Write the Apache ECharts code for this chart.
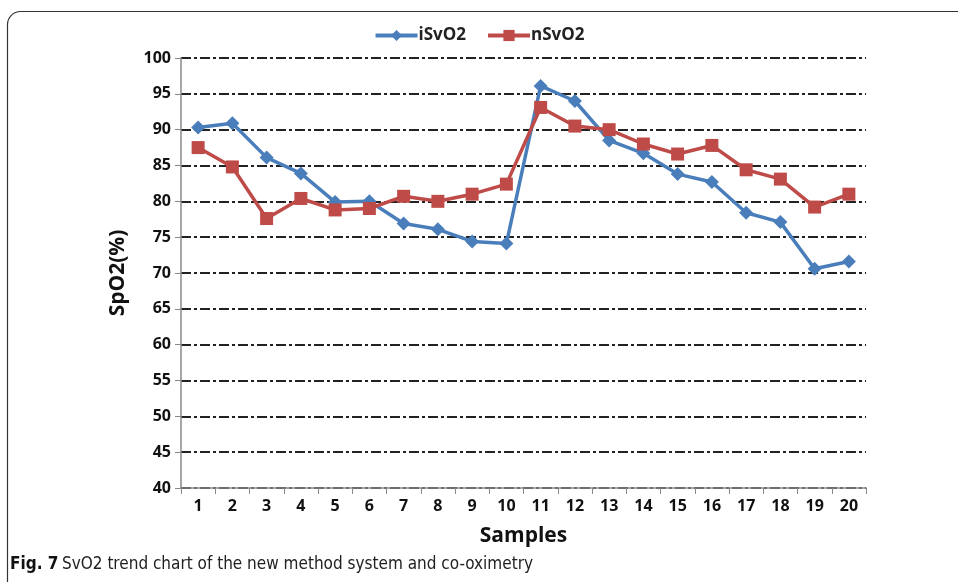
<!DOCTYPE html>
<html><head><meta charset="utf-8">
<script src="https://cdn.jsdelivr.net/npm/echarts@6/dist/echarts.min.js"></script>
<style>html,body{margin:0;padding:0;background:#fff}#c{width:958px;height:582px}</style>
</head><body><div id="c"></div>
<script>
const categories = ['1','2','3','4','5','6','7','8','9','10','11','12','13','14','15','16','17','18','19','20'];
const iSvO2 = [90.3,90.9,86.1,83.9,79.9,80.0,76.9,76.1,74.4,74.1,96.1,94.0,88.5,86.7,83.8,82.7,78.4,77.1,70.6,71.6];
const nSvO2 = [87.5,84.8,77.6,80.4,78.8,79.0,80.7,80.0,81.0,82.4,93.1,90.5,90.0,88.0,86.6,87.8,84.4,83.1,79.2,81.0];
const yMin = 40, yMax = 100, yStep = 5;

const font = '"Open Sans", "DejaVu Sans", sans-serif';
const capFont = '"Liberation Sans Narrow","DejaVu Sans Condensed",sans-serif';
const chart = echarts.init(document.getElementById('c'), null, {renderer:'canvas'});
chart.setOption({
  animation:false,
  backgroundColor:'#fff',
  legend:{
    top:22, left:'center', itemWidth:42, itemHeight:14, itemGap:20,
    lineStyle:{width:4},
    textStyle:{fontFamily:font, fontSize:17, fontWeight:'bold', color:'#222', padding:[0,0,0,-4]},
    data:['iSvO2','nSvO2']
  },
  grid:{left:181, right:92, top:58, bottom:94},
  xAxis:{
    type:'category', data:categories, boundaryGap:true,
    name:'Samples', nameLocation:'middle', nameGap:38,
    nameTextStyle:{fontFamily:font, fontSize:21, fontWeight:'bold', color:'#111'},
    axisLine:{lineStyle:{color:'#888', width:1.5}},
    axisTick:{show:true, alignWithLabel:false, length:6, lineStyle:{color:'#888'}},
    axisLabel:{fontFamily:font, fontSize:16, fontWeight:'bold', color:'#111', margin:10}
  },
  yAxis:{
    type:'value', min:yMin, max:yMax, interval:yStep,
    name:'SpO2(%)', nameLocation:'middle', nameGap:52,
    nameTextStyle:{fontFamily:font, fontSize:21, fontWeight:'bold', color:'#111'},
    axisLine:{show:true, lineStyle:{color:'#888', width:1.5}},
    axisTick:{show:true, length:6, lineStyle:{color:'#888'}},
    axisLabel:{fontFamily:font, fontSize:16, fontWeight:'bold', color:'#111', margin:10},
    splitLine:{show:true, lineStyle:{color:'#222', width:2, type:[10,3,3,3]}}
  },
  series:[
    {name:'iSvO2', type:'line', data:iSvO2, symbol:'diamond', symbolSize:14,
     lineStyle:{color:'#4a7ebb', width:3.5}, itemStyle:{color:'#4a7ebb'}},
    {name:'nSvO2', type:'line', data:nSvO2, symbol:'rect', symbolSize:13,
     lineStyle:{color:'#be4b48', width:3.5}, itemStyle:{color:'#be4b48'}}
  ],
  graphic:[
    {type:'rect', shape:{x:7.5, y:11.5, width:1200, height:1200, r:[13,0,0,0]},
     style:{stroke:'#333', lineWidth:1.2, fill:'transparent'}, z:-1},
    {type:'text', left:10, top:556, style:{text:'Fig. 7', font:'bold 17px ' + capFont, fill:'#111'}},
    {type:'text', left:62, top:556, style:{text:'SvO2 trend chart of the new method system and co-oximetry', font:'17px ' + capFont, fill:'#222'}}
  ]
});
</script></body></html>
